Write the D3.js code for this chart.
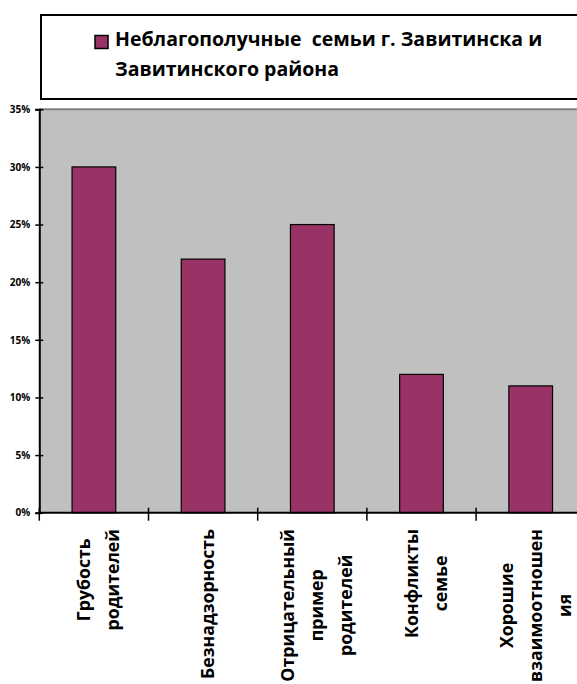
<!DOCTYPE html>
<html><head><meta charset="utf-8">
<script src="https://cdn.jsdelivr.net/npm/d3@7"></script>
<style>body{margin:0;background:#fff;overflow:hidden;} svg{display:block;}</style>
</head><body><svg id="c" width="577" height="684"></svg>
<script>
const categories = ["Грубость\nродителей", "Безнадзорность", "Отрицательный\nпример\nродителей", "Конфликты\nсемье", "Хорошие\nвзаимоотношен\nия"];
const values = [0.30, 0.22, 0.25, 0.12, 0.11];
const tickValues = [0, 0.05, 0.10, 0.15, 0.20, 0.25, 0.30, 0.35];
const seriesName = ["Неблагополучные  семьи г. Завитинска и", "Завитинского района"];

(function () {
const FONT = "'Open Sans', 'DejaVu Sans', sans-serif";
const BAR = "#993366";
const svg = d3.select("#c");

const pL = 39.3, pR = 585.3, pT = 109.3, pB = 512.7;
const x = d3.scaleBand().domain(categories).range([pL, pR]).padding(0);
const y = d3.scaleLinear().domain([0, 0.35]).range([pB, pT]);

// legend box
svg.append("rect").attr("x", 41).attr("y", 15).attr("width", 600).attr("height", 84)
  .attr("fill", "#fff").attr("stroke", "#000").attr("stroke-width", 2);
svg.append("rect").attr("x", 95).attr("y", 35.5).attr("width", 13).attr("height", 13)
  .attr("fill", BAR).attr("stroke", "#000").attr("stroke-width", 1.5);
svg.selectAll("text.leg").data(seriesName).join("text").attr("class", "leg")
  .attr("x", 115).attr("y", (d, i) => 45.5 + i * 30)
  .attr("font-family", FONT).attr("font-weight", "bold").attr("font-size", 19.5)
  .attr("fill", "#000").style("white-space", "pre").text(d => d);

// plot area
svg.append("rect").attr("x", pL).attr("y", pT).attr("width", 620 - pL).attr("height", pB - pT)
  .attr("fill", "#c0c0c0");
svg.append("line").attr("x1", pL).attr("x2", 620).attr("y1", pT).attr("y2", pT)
  .attr("stroke", "#808080").attr("stroke-width", 2);

// bars
svg.selectAll("rect.bar").data(values).join("rect").attr("class", "bar")
  .attr("x", (d, i) => x(categories[i]) + x.bandwidth() * 0.3)
  .attr("width", x.bandwidth() * 0.4)
  .attr("y", d => y(d)).attr("height", d => y(0) - y(d))
  .attr("fill", BAR).attr("stroke", "#000").attr("stroke-width", 1.2);

// y axis
const ya = svg.append("g").attr("transform", `translate(${pL},0)`)
  .call(d3.axisLeft(y).tickValues(tickValues).tickFormat(d3.format(".0%")).tickSize(4).tickPadding(5));
ya.select(".domain").attr("stroke", "#000").attr("stroke-width", 2);
ya.selectAll(".tick line").attr("x1", 4).attr("stroke", "#000").attr("stroke-width", 1.5);
ya.selectAll(".tick text").attr("font-family", FONT).attr("font-weight", "bold").attr("font-size", 10).attr("fill", "#000");

// x axis
svg.append("line").attr("x1", pL).attr("x2", 620).attr("y1", pB).attr("y2", pB)
  .attr("stroke", "#000").attr("stroke-width", 2);
svg.selectAll("line.xt").data(categories).join("line").attr("class", "xt")
  .attr("x1", d => x(d)).attr("x2", d => x(d)).attr("y1", pB - 5).attr("y2", pB + 8)
  .attr("stroke", "#000").attr("stroke-width", 1.5);

// category labels (font shrunk just enough that the longest line fits the page)
const LS = 29, blockTop = 529, maxAllowed = 682 - blockTop;
let LFS = 19;
const probe = svg.append("text").attr("font-family", FONT).attr("font-weight", "bold").attr("font-size", LFS);
let longest = 0;
categories.forEach(c => c.split("\n").forEach(l => {
  probe.text(l); longest = Math.max(longest, probe.node().getComputedTextLength());
}));
probe.remove();
if (longest > maxAllowed) LFS = LFS * maxAllowed / longest;

categories.forEach((c) => {
  const lines = c.split("\n");
  const g = svg.append("g");
  const ts = g.selectAll("text").data(lines).join("text")
    .attr("font-family", FONT).attr("font-weight", "bold").attr("font-size", LFS)
    .attr("fill", "#000").attr("text-anchor", "middle").attr("dominant-baseline", "central")
    .text(d => d);
  let maxLen = 0;
  ts.each(function () { maxLen = Math.max(maxLen, this.getComputedTextLength()); });
  const cx = x(c) + x.bandwidth() / 2 + 4;
  const cy = blockTop + maxLen / 2;
  ts.attr("transform", (d, i) => `translate(${cx + (i - (lines.length - 1) / 2) * LS},${cy}) rotate(-90)`);
});
})();
</script></body></html>
